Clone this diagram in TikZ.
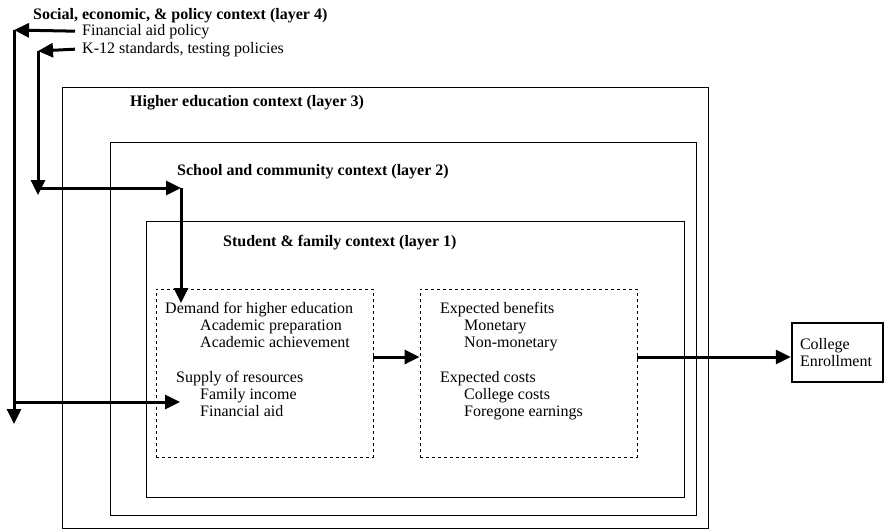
\documentclass[tikz,border=0pt]{standalone}
\usepackage{fontspec}
\setmainfont{Liberation Serif}
\usetikzlibrary{arrows.meta}

\begin{document}
\begin{tikzpicture}[x=1pt,y=-1pt,
  txt/.style={anchor=base west,inner sep=0pt,align=left,font=\fontsize{16}{17}\selectfont},
  title/.style={txt,font=\fontsize{16}{17}\selectfont\bfseries},
  layer/.style={draw,line width=0.8pt},
  dashbox/.style={draw,dashed,line width=0.8pt,inner sep=0pt,minimum width=217pt,minimum height=168pt},
  bigarrow/.style={line width=3pt,-{Triangle[length=15pt,width=14pt]}}]
  \def\indA{35pt}
  \def\indB{24pt}
  \useasboundingbox (0,0) rectangle (885,530);

  % nested context layers
  \draw[layer] (62,87) rectangle (708,528);% layer 3
  \draw[layer] (110,142) rectangle (696,515);% layer 2
  \draw[layer] (146,221) rectangle (684,497);% layer 1

  \node[title] (l4title) at (33,19) {Social, economic, \& policy context (layer 4)};
  \node[txt] (aidpolicy) at (82,35) {Financial aid policy};
  \node[txt] (k12) at (82,53) {K-12 standards, testing policies};
  \node[title] (l3title) at (130,106) {Higher education context (layer 3)};
  \node[title] (l2title) at (177,175) {School and community context (layer 2)};
  \node[title] (l1title) at (223,246) {Student \& family context (layer 1)};

  % the two dashed boxes of layer 1 (text blocks sit on the base of their last line)
  \node[dashbox] (demandbox) at (264.5,373) {};
  \node[dashbox] (valuebox) at (528.5,373) {};
  \node[txt] (demand) at (165,347) {Demand for higher education\\\hspace*{\indA}Academic preparation\\\hspace*{\indA}Academic achievement};
  \node[txt] (supply) at (176,416) {Supply of resources\\\hspace*{\indB}Family income\\\hspace*{\indB}Financial aid};
  \node[txt] (benefits) at (440,347) {Expected benefits\\\hspace*{\indB}Monetary\\\hspace*{\indB}Non-monetary};
  \node[txt] (costs) at (440,416) {Expected costs\\\hspace*{\indB}College costs\\\hspace*{\indB}Foregone earnings};

  \node[draw,line width=2.5pt,minimum width=91pt,minimum height=59pt,inner sep=8pt,text width=75pt,
    align=left,font=\fontsize{16}{17}\selectfont] (enroll) at (837.5,352.5) {College\\Enrollment};

  \coordinate (mid) at (0,357);
  \draw[bigarrow] (demandbox.east |- mid) -- (valuebox.west |- mid);
  \draw[bigarrow] (valuebox.east |- mid) -- (enroll.west |- mid);

  % layer 4 feeds down the left side
  \coordinate (a1) at (14,30);
  \coordinate (a2) at (14,424);
  \coordinate (a3) at (14,402);
  \coordinate (a4) at (180,402);
  \draw[bigarrow] ([xshift=-7pt]aidpolicy.west) -- (a1);
  \draw[bigarrow] (a1) -- (a2);
  \draw[bigarrow] (a3) -- (a4);% to supply of resources

  \coordinate (b1) at (38,51);
  \coordinate (b2) at (38,195);
  \coordinate (b3) at (38,188);
  \coordinate (b4) at (181,188);
  \coordinate (b5) at (181,303);
  \draw[bigarrow] ([xshift=-7pt]k12.west) -- (b1);
  \draw[bigarrow] (b1) -- (b2);
  \draw[bigarrow] (b3) -- (b4);
  \draw[bigarrow] (b4) -- (b5);% to demand
\end{tikzpicture}
\end{document}
